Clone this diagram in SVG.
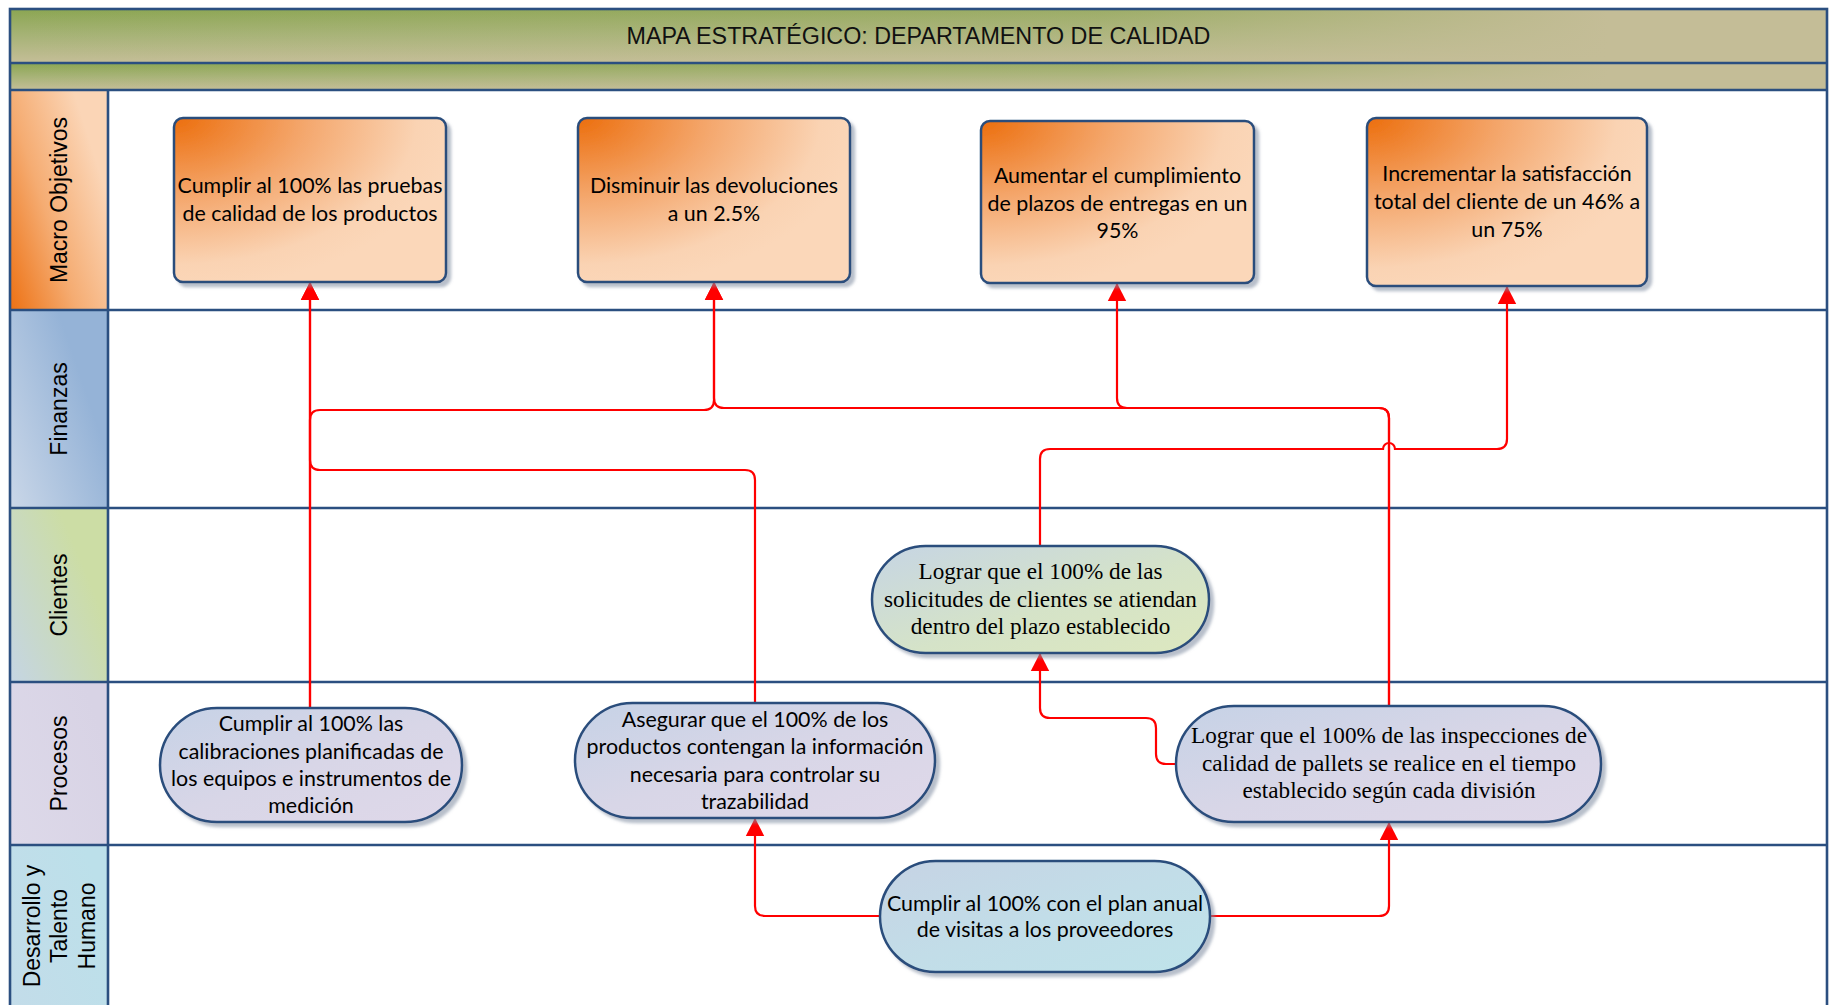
<svg xmlns="http://www.w3.org/2000/svg" width="1834" height="1005" viewBox="0 0 1834 1005">
  <defs>
    <style>
      .lane-line { stroke: #2B4F80; stroke-width: 2.6; fill: none; }
      .lane-label { font-family: "Liberation Sans", Arial, sans-serif; font-size: 23px; fill: #000; text-anchor: middle; }
      .title { font-family: "Liberation Sans", Arial, sans-serif; font-size: 23.3px; fill: #111; text-anchor: middle; }
      .box { stroke: #2A4D7C; stroke-width: 2.5; filter: url(#shadow); }
      .sans { font-family: Lato, "Open Sans", sans-serif; font-size: 21.4px; fill: #000; text-anchor: middle; }
      .serif { font-family: "Liberation Serif", "Times New Roman", serif; font-size: 23.2px; fill: #000; text-anchor: middle; }
      .link { stroke: #FF0000; stroke-width: 2.2; fill: none; marker-end: url(#arrow); }
    </style>

    <filter id="shadow" x="-10%" y="-10%" width="125%" height="130%">
      <feDropShadow dx="4" dy="4" stdDeviation="1.6" flood-color="#7D8AA0" flood-opacity="0.55"/>
    </filter>

    <marker id="arrow" markerUnits="userSpaceOnUse" markerWidth="20" markerHeight="20" viewBox="0 0 20 20" refX="18" refY="10" orient="auto">
      <path d="M0,0.8 L18,10 L0,19.2 z" fill="#FF0000"/>
    </marker>

    <!-- header bands: olive on top fading to tan, tan spreading in from the right -->
    <linearGradient id="bandV" x1="0" y1="0" x2="0" y2="1">
      <stop offset="0" stop-color="#8BA652"/>
      <stop offset="0.5" stop-color="#A7B377"/>
      <stop offset="1" stop-color="#C5BE98"/>
    </linearGradient>
    <linearGradient id="bandH" x1="0" y1="0" x2="1" y2="0">
      <stop offset="0" stop-color="#C4BD97" stop-opacity="0"/>
      <stop offset="0.6" stop-color="#C4BD97" stop-opacity="0.3"/>
      <stop offset="0.88" stop-color="#C4BD97" stop-opacity="1"/>
      <stop offset="1" stop-color="#C4BD97" stop-opacity="1"/>
    </linearGradient>

    <!-- lane header colours -->
    <linearGradient id="gMacroLab" x1="0" y1="1" x2="0.9" y2="0.35">
      <stop offset="0" stop-color="#ED7113"/>
      <stop offset="0.5" stop-color="#F5AC72"/>
      <stop offset="1" stop-color="#FBD5B6"/>
    </linearGradient>
    <linearGradient id="gFinLab" x1="0" y1="1" x2="0.8" y2="0.45">
      <stop offset="0" stop-color="#CAD7E8"/>
      <stop offset="1" stop-color="#95B3D7"/>
    </linearGradient>
    <linearGradient id="gCliLab" x1="0" y1="1" x2="0.8" y2="0.4">
      <stop offset="0" stop-color="#C5D5E4"/>
      <stop offset="1" stop-color="#CCDDA5"/>
    </linearGradient>
    <linearGradient id="gProLab" x1="0" y1="1" x2="1" y2="0.4">
      <stop offset="0" stop-color="#DDD9E9"/>
      <stop offset="1" stop-color="#D8D3E5"/>
    </linearGradient>
    <linearGradient id="gDesLab" x1="0" y1="1" x2="1" y2="0.4">
      <stop offset="0" stop-color="#C3DCE9"/>
      <stop offset="1" stop-color="#BCE0EA"/>
    </linearGradient>

    <!-- node fills -->
    <radialGradient id="gMacro" cx="0" cy="0" r="1.05" fx="0" fy="0">
      <stop offset="0" stop-color="#EC6E0D"/>
      <stop offset="0.45" stop-color="#F4A66B"/>
      <stop offset="0.85" stop-color="#FAD3B3"/>
      <stop offset="1" stop-color="#FBD7B9"/>
    </radialGradient>
    <linearGradient id="gProc" x1="0" y1="0" x2="1" y2="1">
      <stop offset="0" stop-color="#C6D2E6"/>
      <stop offset="0.5" stop-color="#D8D6E7"/>
      <stop offset="1" stop-color="#DFD8E9"/>
    </linearGradient>
    <linearGradient id="gCli" x1="0" y1="0" x2="1" y2="1">
      <stop offset="0" stop-color="#C6D5E4"/>
      <stop offset="0.55" stop-color="#D5E3C8"/>
      <stop offset="1" stop-color="#DDE8BF"/>
    </linearGradient>
    <linearGradient id="gDes" x1="0" y1="0" x2="1" y2="1">
      <stop offset="0" stop-color="#C6D3E4"/>
      <stop offset="0.5" stop-color="#C2DDE8"/>
      <stop offset="1" stop-color="#BFE3EA"/>
    </linearGradient>
  </defs>

  <rect x="0" y="0" width="1834" height="1005" fill="#FFFFFF"/>

  <!-- swimlane frame -->
  <g id="frame">
    <rect x="10" y="9" width="1817" height="54" fill="url(#bandV)"/>
    <rect x="10" y="9" width="1817" height="54" fill="url(#bandH)"/>
    <rect x="10" y="63" width="1817" height="27" fill="url(#bandV)"/>
    <rect x="10" y="63" width="1817" height="27" fill="url(#bandH)"/>
    <text class="title" x="918.5" y="44">MAPA ESTRATÉGICO: DEPARTAMENTO DE CALIDAD</text>

    <rect x="10" y="90" width="98" height="220" fill="url(#gMacroLab)"/>
    <rect x="10" y="310" width="98" height="198" fill="url(#gFinLab)"/>
    <rect x="10" y="508" width="98" height="174" fill="url(#gCliLab)"/>
    <rect x="10" y="682" width="98" height="163" fill="url(#gProLab)"/>
    <rect x="10" y="845" width="98" height="165" fill="url(#gDesLab)"/>

    <text class="lane-label" transform="translate(67,200) rotate(-90)">Macro Objetivos</text>
    <text class="lane-label" transform="translate(67,409) rotate(-90)">Finanzas</text>
    <text class="lane-label" transform="translate(67,595) rotate(-90)">Clientes</text>
    <text class="lane-label" transform="translate(67,763.5) rotate(-90)">Procesos</text>
    <text class="lane-label" transform="translate(40,926) rotate(-90)">Desarrollo y</text>
    <text class="lane-label" transform="translate(67,926) rotate(-90)">Talento</text>
    <text class="lane-label" transform="translate(95,926) rotate(-90)">Humano</text>

    <path class="lane-line" d="M10,63 H1827 M10,90 H1827 M10,310 H1827 M10,508 H1827 M10,682 H1827 M10,845 H1827 M108,90 V1010"/>
    <rect class="lane-line" x="10" y="9" width="1817" height="1001"/>
  </g>

  <!-- connectors -->
  <g id="connectors">
    <path class="link" d="M310,708 V282"/>
    <path class="link" d="M310,708 V420 Q310,410 320,410 H704 Q714,410 714,400 V282"/>
    <path class="link" d="M755,703 V480 Q755,470 745,470 H320 Q310,470 310,460 V282"/>
    <path class="link" d="M1389,706 V418 Q1389,408 1379,408 H724 Q714,408 714,398 V282"/>
    <path class="link" d="M1389,706 V418 Q1389,408 1379,408 H1127 Q1117,408 1117,398 V283"/>
    <path class="link" d="M1040,546 V459 Q1040,449 1050,449 H1383 A6,6 0 0 1 1395,449 H1497 Q1507,449 1507,439 V286"/>
    <path class="link" d="M1176,764 H1166 Q1156,764 1156,754 V728 Q1156,718 1146,718 H1050 Q1040,718 1040,708 V653"/>
    <path class="link" d="M880,916 H765 Q755,916 755,906 V818"/>
    <path class="link" d="M1210,916 H1379 Q1389,916 1389,906 V822"/>
  </g>

  <!-- Macro Objetivos -->
  <g id="m1">
    <rect class="box" x="174" y="118" width="272" height="164" rx="9" fill="url(#gMacro)"/>
    <text class="sans"><tspan x="310" y="193">Cumplir al 100% las pruebas</tspan><tspan x="310" y="221">de calidad de los productos</tspan></text>
  </g>
  <g id="m2">
    <rect class="box" x="578" y="118" width="272" height="164" rx="9" fill="url(#gMacro)"/>
    <text class="sans"><tspan x="714" y="193">Disminuir las devoluciones</tspan><tspan x="714" y="221">a un 2.5%</tspan></text>
  </g>
  <g id="m3">
    <rect class="box" x="981" y="121" width="273" height="162" rx="9" fill="url(#gMacro)"/>
    <text class="sans"><tspan x="1117.5" y="183">Aumentar el cumplimiento</tspan><tspan x="1117.5" y="210.5">de plazos de entregas en un</tspan><tspan x="1117.5" y="238">95%</tspan></text>
  </g>
  <g id="m4">
    <rect class="box" x="1367" y="118" width="280" height="168" rx="9" fill="url(#gMacro)"/>
    <text class="sans"><tspan x="1507" y="181">Incrementar la satisfacción</tspan><tspan x="1507" y="209">total del cliente de un 46% a</tspan><tspan x="1507" y="237">un 75%</tspan></text>
  </g>

  <!-- Clientes -->
  <g id="c1">
    <rect class="box" x="872" y="546" width="337" height="107" rx="53.5" fill="url(#gCli)"/>
    <text class="serif"><tspan x="1040.5" y="579">Lograr que el 100% de las</tspan><tspan x="1040.5" y="606.5">solicitudes de clientes se atiendan</tspan><tspan x="1040.5" y="634">dentro del plazo establecido</tspan></text>
  </g>

  <!-- Procesos -->
  <g id="p1">
    <rect class="box" x="160" y="708" width="302" height="114" rx="57" fill="url(#gProc)"/>
    <text class="sans"><tspan x="311" y="731">Cumplir al 100% las</tspan><tspan x="311" y="759">calibraciones planificadas de</tspan><tspan x="311" y="786">los equipos e instrumentos de</tspan><tspan x="311" y="813">medición</tspan></text>
  </g>
  <g id="p2">
    <rect class="box" x="575" y="703" width="360" height="115" rx="57.5" fill="url(#gProc)"/>
    <text class="sans"><tspan x="755" y="727">Asegurar que el 100% de los</tspan><tspan x="755" y="754">productos contengan la información</tspan><tspan x="755" y="781.5">necesaria para controlar su</tspan><tspan x="755" y="809">trazabilidad</tspan></text>
  </g>
  <g id="p3">
    <rect class="box" x="1176" y="706" width="425" height="116" rx="58" fill="url(#gProc)"/>
    <text class="serif"><tspan x="1389" y="743">Lograr que el 100% de las inspecciones de</tspan><tspan x="1389" y="770.5">calidad de pallets se realice en el tiempo</tspan><tspan x="1389" y="797.5">establecido según cada división</tspan></text>
  </g>

  <!-- Desarrollo y Talento Humano -->
  <g id="d1">
    <rect class="box" x="880" y="861" width="330" height="111" rx="55.5" fill="url(#gDes)"/>
    <text class="sans"><tspan x="1045" y="910.5">Cumplir al 100% con el plan anual</tspan><tspan x="1045" y="937">de visitas a los proveedores</tspan></text>
  </g>
</svg>
